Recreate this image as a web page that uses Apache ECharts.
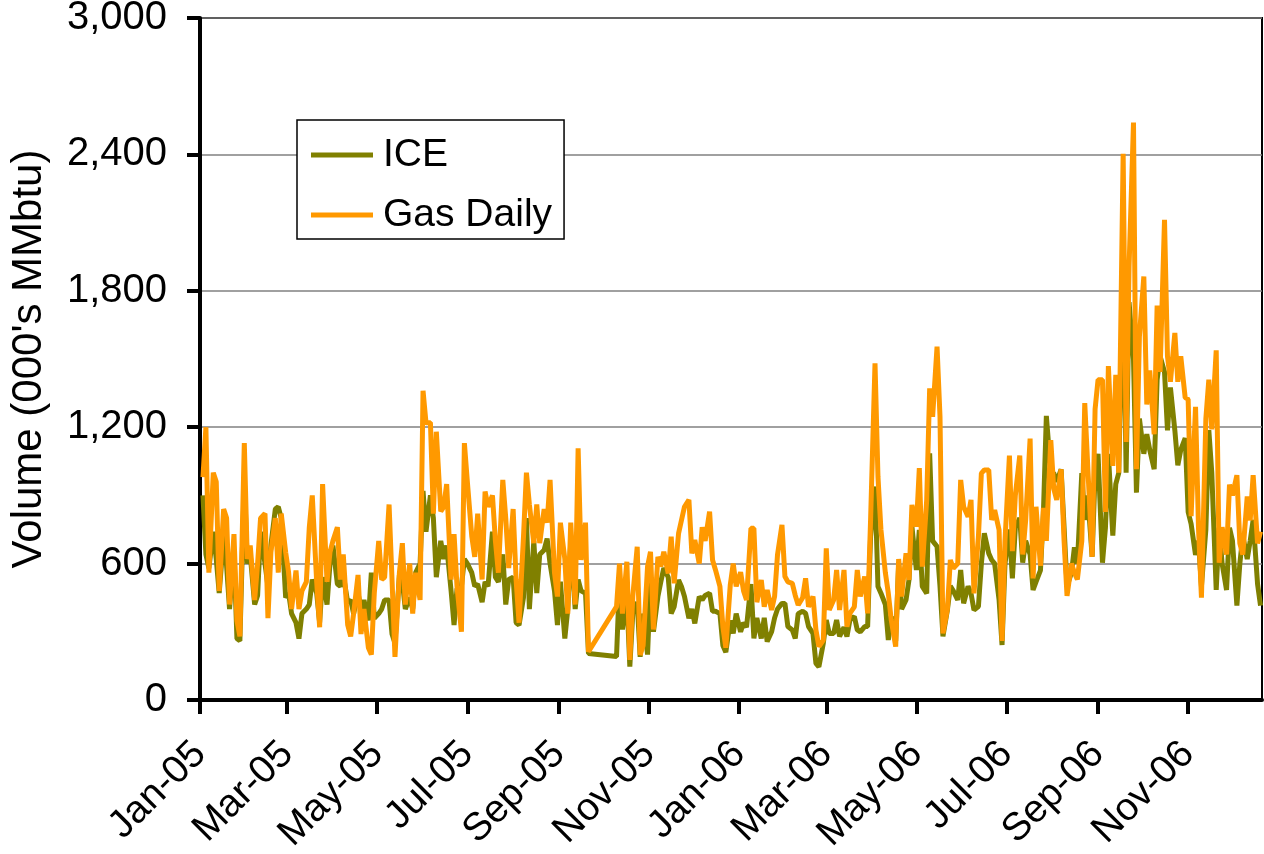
<!DOCTYPE html>
<html>
<head>
<meta charset="utf-8">
<script src="https://cdn.jsdelivr.net/npm/echarts@6/dist/echarts.min.js"></script>
<style>
    html, body { margin: 0; padding: 0; background: #fff; }
    #chart { width: 1264px; height: 854px; }
</style>
</head>
<body>
<div id="chart"></div>
<script>
// 3 samples per week (Mon, Wed, Fri), weeks start Mon 3-Jan-2005 / Mon 2-Jan-2006
// nulls = missing days after Hurricane Rita (late Sep / early Oct 2005)
const ice2005 = [
    900, 640, 580,  740, 620, 470,  720, 590, 400,  650, 270, 260,
    970, 600, 640,  420, 460, 740,  600, 500, 680,  840, 850, 800,
    450, 470, 380,  340, 270, 380,  400, 420, 530,  470, 340, 540,
    420, 600, 680,  510, 500, 550,  430, 440, 380,  470, 400, 440,
    350, 560, 360,  380, 400, 440,  440, 290, 250,  550, 520, 400,
    450, 400, 560,  600, 920, 740,  900, 800, 540,  700, 620, 680,
    480, 330, 490,  500, 620, 600,  560, 500, 510,  430, 520, 500,
    740, 540, 520,  640, 420, 530,  540, 340, 330,  450, 800, 400,
    700, 470, 640,  660, 710, 600,  480, 330, 520,  270, 400, 700,
    400, 530, 480,  470, 205, null, null, null, null, null, null, null,
    191, 528, 310,  455, 147, 381,  430, 190, 380,  200, 528, 300,
    455, 520, 580,  540, 380, 410,  528, 498, 455,  360, 400, 337,
    455, 440, 460,  470, 390, 390,  380, 240, 210,  350, 293, 380
];
const gas2005 = [
    980, 1200, 560,  1000, 960, 480,  840, 800, 420,  730, 350, 280,
    1130, 620, 680,  440, 600, 800,   820, 360, 650,  800, 560, 820,
    650, 560, 400,   570, 400, 480,   520, 760, 900,  520, 320, 950,
    520, 650, 700,   760, 530, 640,   330, 280, 380,  550, 290, 400,
    230, 200, 470,   700, 530, 540,   860, 530, 190,  560, 690, 420,
    600, 380, 560,   440, 1360, 1220, 1220, 820, 1180, 830, 850, 950,
    530, 730, 500,   300, 1130, 960,  720, 630, 820,  530, 917, 850,
    900, 700, 560,   968, 800, 580,   840, 530, 340,  718, 1000, 860,
    690, 860, 690,   840, 780, 968,   560, 455, 780,  620, 380, 780,
    420, 1107, 616,  780, 212, null,  null, null, null, null, null, null,
    411, 600, 380,   608, 176, 455,   674, 198, 240,  587, 652, 310,
    630, 587, 652,   557, 718, 513,   733, 792, 850,  880, 645, 704,
    600, 760, 700,   829, 616, 572,   500, 322, 230,  506, 600, 500
];
const ice2006 = [
    300, 340, 320,   510, 271, 361,   271, 361, 257,   300, 361, 400,
    425, 425, 323,   308, 271, 380,   390, 381, 323,   293, 161, 146,
    250, 352, 293,   293, 352, 280,   320, 279, 352,   367, 308, 300,
    323, 323, 718,   939, 499, 470,   420, 264, 367,   260, 600, 400,
    440, 528, 763,   572, 748, 500,   469, 1085, 700,  675, 500, 280,
    396, 501, 480,   440, 572, 425,   500, 469, 396,   411, 600, 733,
    645, 616, 600,   440, 242, 600,   750, 535, 758,   800, 604, 700,
    640, 484, 520,   570, 820, 1250,  1000, 998, 960,  1015, 760, 500,
    560, 672, 600,   998, 792, 900,   630, 998, 1083,  604, 758, 1083,
    723, 950, 998,   1900, 1000, 1750, 1500, 912, 1238, 1083, 1169, 1100,
    1015, 1409, 1512, 1443, 1186, 1375, 1186, 1032, 1100, 1152, 827, 775,
    638, 700, 500,   750, 1187, 1000, 484, 758, 600,   484, 758, 700,
    415, 600, 723,   620, 700, 792,   510, 415
];
const gas2006 = [
    562, 480, 440,   755, 755, 430,   528, 410, 484,   396, 455, 640,
    770, 543, 520,   513, 460, 418,   450, 535, 410,   455, 308, 235,
    264, 667, 396,   440, 572, 396,   572, 322, 381,   410, 572, 455,
    543, 381, 792,   1481, 982, 750,  560, 470, 352,   235, 620, 455,
    645, 528, 858,   763, 1020, 587,  880, 1371, 1246, 1554, 1246, 293,
    400, 616, 579,   600, 968, 850,   806, 880, 469,   718, 997, 1012,
    1012, 792, 836,  748, 260, 700,   1075, 655, 900,  1075, 640, 792,
    1150, 535, 850,  590, 845, 700,   1143, 930, 880,  1015, 700, 458,
    600, 560, 530,   700, 1306, 1032, 630, 1280, 1409, 1409, 827, 1469,
    1030, 1430, 1000, 2403, 1135, 1906, 2540, 1015, 1600, 1863, 1300, 1450,
    1169, 1735, 1443, 2112, 1512, 1400, 1615, 1400, 1512, 1330, 1323, 809,
    1290, 757, 450,  1238, 1409, 1190, 1538, 604, 760,  640, 947, 900,
    989, 689, 640,   895, 790, 989,   689, 741
];
const labelMonths = [
    [2005, 0], [2005, 2], [2005, 4], [2005, 6], [2005, 8], [2005, 10],
    [2006, 0], [2006, 2], [2006, 4], [2006, 6], [2006, 8], [2006, 10]
];
const monthNames = ['Jan', 'Feb', 'Mar', 'Apr', 'May', 'Jun', 'Jul', 'Aug', 'Sep', 'Oct', 'Nov', 'Dec'];

const FONT = '"Liberation Sans", Arial, sans-serif';

// pair each value with its weekday date (as a timestamp)
function withDates (values, year, firstMonday) {
    const offs = [0, 2, 4];
    return values.map(function (v, i) {
        const d = new Date(year, 0, firstMonday + 7 * Math.floor(i / 3) + offs[i % 3]);
        return [d.getTime(), v];
    });
}

const iceData = withDates(ice2005, 2005, 3).concat(withDates(ice2006, 2006, 2));
const gasData = withDates(gas2005, 2005, 3).concat(withDates(gas2006, 2006, 2));
const tickTimes = labelMonths.map(function (m) { return new Date(m[0], m[1], 1).getTime(); });

const chart = echarts.init(document.getElementById('chart'));
chart.setOption({
    animation: false,
    textStyle: { fontFamily: FONT },
    grid: {
        left: 200,
        right: 2,
        top: 18,
        bottom: 154,
        outerBoundsMode: 'none',
        containLabel: false,
        show: true,
        borderColor: '#000',
        borderWidth: 2
    },
    legend: {
        data: [
            { name: 'ICE', icon: 'rect' },
            { name: 'Gas Daily', icon: 'rect' }
        ],
        orient: 'vertical',
        left: 297,
        top: 120,
        backgroundColor: '#fff',
        borderColor: '#000',
        borderWidth: 1.5,
        borderRadius: 0,
        padding: [15, 12, 4, 14],
        itemWidth: 62,
        itemHeight: 5,
        itemGap: 20,
        textStyle: { fontSize: 39, lineHeight: 40, color: '#000', fontFamily: FONT, padding: [0, 0, 0, 5] }
    },
    xAxis: {
        type: 'value',
        min: new Date(2005, 0, 1).getTime(),
        max: new Date(2006, 11, 21).getTime(),
        splitLine: { show: false },
        axisLine: { lineStyle: { color: '#000', width: 4 } },
        axisTick: {
            show: true,
            customValues: tickTimes,
            length: 14,
            lineStyle: { color: '#000', width: 4 }
        },
        axisLabel: {
            customValues: tickTimes,
            rotate: 45,
            margin: 48,
            fontSize: 39,
            color: '#000',
            fontFamily: FONT,
            formatter: function (val) {
                const d = new Date(val);
                return monthNames[d.getMonth()] + '-' + String(d.getFullYear()).slice(2);
            }
        }
    },
    yAxis: {
        type: 'value',
        min: 0,
        max: 3000,
        interval: 600,
        name: "Volume (000's MMbtu)",
        nameLocation: 'middle',
        nameGap: 150,
        nameTextStyle: { fontSize: 42, color: '#000', fontFamily: FONT },
        axisLine: { show: true, lineStyle: { color: '#000', width: 4 } },
        axisTick: { show: true, length: 13, lineStyle: { color: '#000', width: 4 } },
        axisLabel: { fontSize: 40, margin: 33, color: '#000', fontFamily: FONT },
        splitLine: { lineStyle: { color: '#808080', width: 1.5 } }
    },
    series: [
        {
            name: 'ICE',
            type: 'line',
            data: iceData,
            symbol: 'none',
            connectNulls: true,
            color: '#808000',
            lineStyle: { width: 5, color: '#808000' }
        },
        {
            name: 'Gas Daily',
            type: 'line',
            data: gasData,
            symbol: 'none',
            connectNulls: true,
            color: '#FF9900',
            lineStyle: { width: 5, color: '#FF9900' }
        }
    ]
});
</script>
</body>
</html>
